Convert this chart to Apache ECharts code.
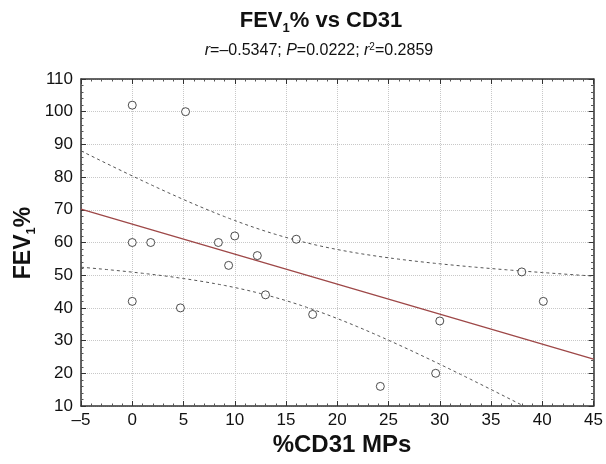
<!DOCTYPE html>
<html><head><meta charset="utf-8">
<script src="https://cdn.jsdelivr.net/npm/echarts@6/dist/echarts.min.js"></script>
<style>html,body{margin:0;padding:0;background:#fff}#c{width:606px;height:464px}</style>
</head><body><div id="c"></div>
<script>
// Data
const cd31 = [0, 0, 0, 1.8, 5.2, 4.7, 8.4, 9.4, 10, 12.2, 13, 16, 17.6, 24.2, 29.6, 30, 38, 40.1];
const fev1 = [102, 60, 42, 60, 100, 40, 60, 53, 62, 56, 44, 61, 38, 16, 20, 36, 51, 42];
const xTicks = [-5, 0, 5, 10, 15, 20, 25, 30, 35, 40, 45];
const yTicks = [10, 20, 30, 40, 50, 60, 70, 80, 90, 100, 110];
const tCrit = 2.1199; // t(0.975, df=16)

// Linear regression fit with 95% confidence band for the mean
const n = cd31.length;
const mx = cd31.reduce((a, b) => a + b, 0) / n;
const my = fev1.reduce((a, b) => a + b, 0) / n;
let sxx = 0, sxy = 0, syy = 0;
for (let i = 0; i < n; i++) {
  sxx += (cd31[i] - mx) ** 2;
  sxy += (cd31[i] - mx) * (fev1[i] - my);
  syy += (fev1[i] - my) ** 2;
}
const slope = sxy / sxx, icpt = my - slope * mx;
const s = Math.sqrt((syy - sxy * sxy / sxx) / (n - 2));
const xmin = xTicks[0], xmax = xTicks[xTicks.length - 1];
const fit = [], up = [], lo = [];
for (let k = 0; k <= 100; k++) {
  const x = xmin + (xmax - xmin) * k / 100;
  const yh = icpt + slope * x;
  const se = s * Math.sqrt(1 / n + (x - mx) ** 2 / sxx);
  fit.push([x, yh]); up.push([x, yh + tCrit * se]); lo.push([x, yh - tCrit * se]);
}

const font = 'Arial, "Liberation Sans", Helvetica, sans-serif';
const axisCommon = {
  axisLine: { show: true, onZero: false, lineStyle: { color: '#333', width: 1.5 } },
  axisTick: { show: true, inside: true, length: 5, lineStyle: { color: '#333' } },
  minorTick: { show: true, splitNumber: 5, length: 2.5, lineStyle: { color: '#555' } },
};
const chart = echarts.init(document.getElementById('c'), null, { renderer: 'canvas' });
chart.setOption({
  animation: false,
  backgroundColor: '#fff',
  title: [
    { text: 'FEV{sub|1}% vs CD31', left: 316, top: 2, textAlign: 'center',
      textStyle: { fontFamily: font, fontSize: 22, fontWeight: 'bold', color: '#111',
        rich: { sub: { fontFamily: font, fontSize: 13, fontWeight: 'bold', color: '#111', padding: [15, 0, 0, 0] } } } },
    { text: '{n|}{i|r}{n|=–0.5347; }{i|P}{n|=0.0222; }{i|r}{sup|2}{n|=0.2859}', left: 314, top: 37, textAlign: 'center',
      textStyle: { fontFamily: font, fontSize: 16, fontWeight: 'normal', color: '#111',
        rich: { n: { fontFamily: font, fontSize: 16, fontWeight: 'normal', color: '#111' },
                i: { fontFamily: font, fontSize: 16, fontWeight: 'normal', fontStyle: 'italic', color: '#111' },
                sup: { fontFamily: font, fontSize: 10, fontWeight: 'normal', color: '#111', padding: [0, 0, 7, 0] } } } },
    { text: '%CD31 MPs', left: 337, top: 428, textAlign: 'center',
      textStyle: { fontFamily: font, fontSize: 24, fontWeight: 'bold', color: '#111' } }
  ],
  graphic: [{
    type: 'text', x: 24, y: 243, rotation: Math.PI / 2,
    style: { text: 'FEV{sub|1}%', fontFamily: font, fontSize: 23, fontWeight: 'bold', fill: '#111',
      align: 'center', verticalAlign: 'middle',
      rich: { sub: { fontFamily: font, fontSize: 13, fontWeight: 'bold', fill: '#111', padding: [15, 0, 0, 0] } } }
  }],
  grid: { left: 81, right: 10, top: 79, bottom: 58, show: false },
  xAxis: [
    Object.assign({ type: 'value', min: xmin, max: xmax, interval: 5,
      axisLabel: { fontFamily: font, fontSize: 17, color: '#111', margin: 6,
        formatter: v => String(v).replace('-', '–') },
      splitLine: { show: true, lineStyle: { color: '#c8c8c8', type: 'dotted', width: 1 } } }, axisCommon),
    Object.assign({ type: 'value', position: 'top', min: xmin, max: xmax, interval: 5,
      axisLabel: { show: false }, splitLine: { show: false } }, axisCommon)
  ],
  yAxis: [
    Object.assign({ type: 'value', min: yTicks[0], max: yTicks[yTicks.length - 1], interval: 10,
      axisLabel: { fontFamily: font, fontSize: 17, color: '#111', margin: 8 },
      splitLine: { show: true, lineStyle: { color: '#c8c8c8', type: 'dotted', width: 1 } } }, axisCommon),
    Object.assign({ type: 'value', position: 'right', min: yTicks[0], max: yTicks[yTicks.length - 1], interval: 10,
      axisLabel: { show: false }, splitLine: { show: false } }, axisCommon)
  ],
  series: [
    { type: 'line', data: up, showSymbol: false, symbol: 'none', clip: true, silent: true,
      lineStyle: { color: '#555', width: 1, type: [3, 3] }, z: 2 },
    { type: 'line', data: lo, showSymbol: false, symbol: 'none', clip: true, silent: true,
      lineStyle: { color: '#555', width: 1, type: [3, 3] }, z: 2 },
    { type: 'line', data: fit, showSymbol: false, symbol: 'none', clip: true, silent: true,
      lineStyle: { color: '#9e4848', width: 1.3 }, z: 3 },
    { type: 'scatter', data: cd31.map((x, i) => [x, fev1[i]]), symbol: 'circle', symbolSize: 8,
      itemStyle: { color: '#fff', borderColor: '#222', borderWidth: 1 }, z: 4 }
  ]
});
</script>
</body></html>
